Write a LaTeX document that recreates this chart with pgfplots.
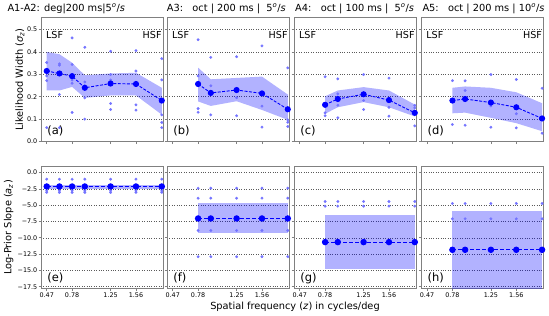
\documentclass[border=0pt]{standalone}
\usepackage{pgfplots}
\pgfplotsset{compat=1.18}
\usepackage{fontspec}
\setmainfont{DejaVu Sans}
\definecolor{gridc}{RGB}{90,90,90}
\definecolor{spine}{RGB}{128,128,128}
\definecolor{dotc}{RGB}{115,115,255}
\pgfplotsset{
  panel/.style={
    scale only axis, width=122pt,
    xmin=0.40, xmax=1.89,
    xtick={0.47,0.78,1.25,1.56},
    axis line style={draw=spine, line width=0.8pt},
    tick style={draw=spine, line width=0.6pt},
    tick align=outside, major tick length=2.5pt,
    xtick pos=bottom, ytick pos=left,
    ymajorgrids, major grid style={dotted, gridc, line width=0.5pt},
    ticklabel style={font=\fontsize{6.4}{7}\selectfont, inner sep=1pt},
    clip=true,
  },
  toprow/.style={panel, height=124.2pt, ymin=0, ymax=0.555,
    ytick={0,0.1,0.2,0.3,0.4,0.5}, xticklabels={}},
  botrow/.style={panel, height=122.7pt, ymin=-17.8, ymax=1.0,
    ytick={0,-2.5,-5,-7.5,-10,-12.5,-15,-17.5},
    xticklabels={0.47,0.78,1.25,1.56}},
  band/.style={draw=none, fill=blue, fill opacity=0.3, forget plot},
  small/.style={color=dotc, only marks, mark=*, mark size=1.3pt, mark options={solid, draw=dotc, fill=dotc, line width=0.3pt}},
  big/.style={blue, line width=0.9pt, dash pattern=on 3pt off 1.5pt, mark=*, mark size=2.6pt, mark options={solid, fill=blue, draw=blue}},
  bigb/.style={blue, line width=1.2pt, dash pattern=on 4pt off 2pt, mark=*, mark size=2.6pt, mark options={solid, fill=blue, draw=blue}},
}
\newcommand{\lsf}{%
  \node[anchor=base west, inner sep=0, font=\fontsize{9.6}{11}\selectfont] at (rel axis cs:0.04,0.83) {LSF};
  \node[anchor=base east, inner sep=0, font=\fontsize{9.6}{11}\selectfont] at (rel axis cs:0.99,0.83) {HSF};}
\newcommand{\plab}[1]{\node[anchor=base west, inner sep=0, font=\fontsize{11.5}{13}\selectfont] at (rel axis cs:0.05,0.06) {(#1)};}
\begin{document}
\begin{tikzpicture}
\useasboundingbox (0,0) rectangle (549pt,-316pt);
% ---------------- (a)
\begin{axis}[toprow, at={(41pt,-141.5pt)}, anchor=south west, yticklabels={0.0,0.1,0.2,0.3,0.4,0.5}]
\addplot[band] coordinates {(0.47,0.400)(0.625,0.390)(0.78,0.352)(0.935,0.296)(1.25,0.304)(1.56,0.307)(1.875,0.240)
 (1.875,0.120)(1.56,0.206)(1.25,0.206)(0.935,0.195)(0.78,0.244)(0.625,0.228)(0.47,0.229)} -- cycle;
\addplot[small] coordinates {(0.47,0.353)(0.47,0.293)(0.47,0.272)(0.47,0.062)
 (0.625,0.347)(0.625,0.341)(0.625,0.210)(0.625,0.062)
 (0.78,0.463)(0.78,0.344)(0.78,0.275)(0.78,0.260)(0.78,0.130)
 (0.935,0.421)(0.935,0.266)(0.935,0.249)(0.935,0.237)(0.935,0.195)(0.935,0.100)
 (1.25,0.403)(1.25,0.299)(1.25,0.275)(1.25,0.268)(1.25,0.170)(1.25,0.143)
 (1.56,0.406)(1.56,0.315)(1.56,0.164)(1.56,0.140)
 (1.875,0.370)(1.875,0.275)(1.875,0.119)(1.875,0.085)(1.875,0.062)};
\addplot[big] coordinates {(0.47,0.315)(0.625,0.304)(0.78,0.292)(0.935,0.240)(1.25,0.259)(1.56,0.257)(1.875,0.183)};
\lsf \plab{a}
\end{axis}
% ---------------- (b)
\begin{axis}[toprow, at={(167pt,-141.5pt)}, anchor=south west, yticklabels={}]
\addplot[band] coordinates {(0.78,0.330)(0.935,0.278)(1.25,0.284)(1.56,0.290)(1.875,0.210)
 (1.875,0.097)(1.56,0.141)(1.25,0.180)(0.935,0.159)(0.78,0.179)} -- cycle;
\addplot[small] coordinates {(0.78,0.455)(0.78,0.293)(0.78,0.147)(0.78,0.131)
 (0.935,0.376)(0.935,0.249)(0.935,0.119)
 (1.25,0.379)(1.25,0.196)(1.25,0.115)
 (1.56,0.427)(1.56,0.158)(1.56,0.064)
 (1.875,0.329)(1.875,0.097)(1.875,0.086)(1.875,0.067)};
\addplot[big] coordinates {(0.78,0.257)(0.935,0.217)(1.25,0.230)(1.56,0.215)(1.875,0.144)};
\lsf \plab{b}
\end{axis}
% ---------------- (c)
\begin{axis}[toprow, at={(294pt,-141.5pt)}, anchor=south west, yticklabels={}]
\addplot[band] coordinates {(0.78,0.202)(0.935,0.228)(1.25,0.243)(1.56,0.228)(1.875,0.165)
 (1.875,0.112)(1.56,0.153)(1.25,0.176)(0.935,0.153)(0.78,0.124)} -- cycle;
\addplot[small] coordinates {(0.78,0.289)(0.78,0.128)(0.78,0.115)
 (0.935,0.280)(0.935,0.213)(0.935,0.198)(0.935,0.162)(0.935,0.106)
 (1.25,0.299)(1.25,0.183)(1.25,0.143)
 (1.56,0.283)(1.56,0.153)(1.56,0.113)
 (1.875,0.161)(1.875,0.150)(1.875,0.070)};
\addplot[big] coordinates {(0.78,0.164)(0.935,0.190)(1.25,0.211)(1.56,0.185)(1.875,0.128)};
\lsf \plab{c}
\end{axis}
% ---------------- (d)
\begin{axis}[toprow, at={(421.3pt,-141.5pt)}, anchor=south west, yticklabels={}]
\addplot[band] coordinates {(0.78,0.240)(0.935,0.246)(1.25,0.240)(1.56,0.220)(1.875,0.171)
 (1.875,0.046)(1.56,0.082)(1.25,0.106)(0.935,0.129)(0.78,0.126)} -- cycle;
\addplot[small] coordinates {(0.78,0.272)(0.78,0.076)
 (0.935,0.271)(0.935,0.228)(0.935,0.073)
 (1.25,0.299)(1.25,0.159)(1.25,0.064)
 (1.56,0.277)(1.56,0.124)(1.56,0.061)
 (1.875,0.238)(1.875,0.037)};
\addplot[big] coordinates {(0.78,0.183)(0.935,0.190)(1.25,0.174)(1.56,0.153)(1.875,0.103)};
\lsf \plab{d}
\end{axis}
% ---------------- (e)
\begin{axis}[botrow, at={(41pt,-288.7pt)}, anchor=south west,
  yticklabels={0.0,−2.5,−5.0,−7.5,−10.0,−12.5,−15.0,−17.5}]
\addplot[band] coordinates {(0.47,-1.85)(1.875,-1.85)(1.875,-2.45)(0.47,-2.45)} -- cycle;
\addplot[small] coordinates {(0.47,-1.02)(0.47,-2.8)(0.47,-3.05)
 (0.625,-1.02)(0.625,-2.8)(0.625,-3.05)(0.78,-1.02)(0.78,-2.8)(0.78,-3.05)
 (0.935,-1.02)(0.935,-2.8)(0.935,-3.05)(1.25,-1.02)(1.25,-2.8)(1.25,-3.05)
 (1.56,-1.02)(1.56,-2.8)(1.56,-3.05)(1.875,-1.02)(1.875,-2.8)(1.875,-3.05)};
\addplot[bigb] coordinates {(0.47,-2.14)(0.625,-2.14)(0.78,-2.14)(0.935,-2.14)(1.25,-2.14)(1.56,-2.14)(1.875,-2.14)};
\plab{e}
\end{axis}
% ---------------- (f)
\begin{axis}[botrow, at={(167pt,-288.7pt)}, anchor=south west, yticklabels={}]
\addplot[band] coordinates {(0.78,-4.64)(1.875,-4.64)(1.875,-9.34)(0.78,-9.34)} -- cycle;
\addplot[small] coordinates {(0.78,-2.4)(0.78,-3.93)(0.78,-8.88)(0.78,-12.9)
 (0.935,-2.4)(0.935,-3.93)(0.935,-8.88)(0.935,-12.9)
 (1.25,-2.4)(1.25,-3.93)(1.25,-8.88)(1.25,-12.9)
 (1.56,-2.4)(1.56,-3.93)(1.56,-8.88)(1.56,-12.9)
 (1.875,-2.4)(1.875,-3.93)(1.875,-8.88)(1.875,-12.9)};
\addplot[bigb] coordinates {(0.78,-7.04)(0.935,-7.04)(1.25,-7.04)(1.56,-7.04)(1.875,-7.04)};
\plab{f}
\end{axis}
% ---------------- (g)
\begin{axis}[botrow, at={(294pt,-288.7pt)}, anchor=south west, yticklabels={}]
\addplot[band] coordinates {(0.78,-6.53)(1.875,-6.53)(1.875,-14.85)(0.78,-14.85)} -- cycle;
\addplot[small] coordinates {(0.78,-4.44)(0.78,-5.15)(0.935,-4.44)(0.935,-5.15)
 (1.25,-4.44)(1.25,-5.15)(1.56,-4.44)(1.56,-5.15)(1.875,-4.44)(1.875,-5.15)};
\addplot[bigb] coordinates {(0.78,-10.66)(0.935,-10.66)(1.25,-10.66)(1.56,-10.66)(1.875,-10.66)};
\plab{g}
\end{axis}
% ---------------- (h)
\begin{axis}[botrow, at={(421.3pt,-288.7pt)}, anchor=south west, yticklabels={}]
\addplot[band] coordinates {(0.78,-5.92)(1.875,-5.92)(1.875,-20)(0.78,-20)} -- cycle;
\addplot[small] coordinates {(0.78,-4.74)(0.78,-7.09)(0.935,-4.74)(0.935,-7.09)
 (1.25,-4.74)(1.25,-7.09)(1.56,-4.74)(1.56,-7.09)(1.875,-4.74)(1.875,-7.09)};
\addplot[bigb] coordinates {(0.78,-11.84)(0.935,-11.84)(1.25,-11.84)(1.56,-11.84)(1.875,-11.84)};
\plab{h}
\end{axis}
% ---------------- titles and labels
\begin{scope}[every node/.style={inner sep=0, font=\fontsize{9.8}{11}\selectfont}]
\node[anchor=base west] at (7.3pt,-11pt) {A1-A2: deg|200 ms|5\textsuperscript{\textit{o}}/\textit{s}};
\node[anchor=base west] at (166.7pt,-11pt) {A3:\ \ \ oct | 200 ms |\ \ 5\textsuperscript{\textit{o}}/\textit{s}};
\node[anchor=base west] at (295pt,-11pt) {A4:\ \ \ oct | 100 ms |\ \ 5\textsuperscript{\textit{o}}/\textit{s}};
\node[anchor=base west] at (422.3pt,-11pt) {A5:\ \ \ oct | 200 ms | 10\textsuperscript{\textit{o}}/\textit{s}};
\node[rotate=90, anchor=center] at (20pt,-79.4pt) {Likelihood Width (\textit{σ}\textsubscript{\textit{z}})};
\node[rotate=90, anchor=center] at (8.7pt,-227.4pt) {Log-Prior Slope (\textit{a}\textsubscript{\textit{z}})};
\node[anchor=base] at (295pt,-309pt) {Spatial frequency (\textit{z}) in cycles/deg};
\end{scope}
\end{tikzpicture}
\end{document}
